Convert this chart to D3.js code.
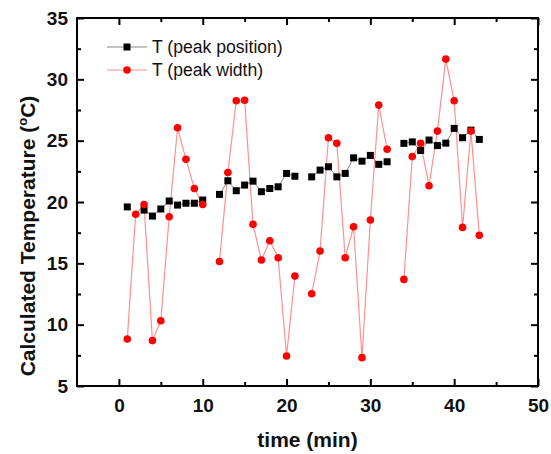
<!DOCTYPE html>
<html>
<head>
<meta charset="utf-8">
<script src="https://cdn.jsdelivr.net/npm/d3@7"></script>
<style>
  body { margin: 0; background: #fff; }
  svg { font-family: Arial, "Liberation Sans", sans-serif; }
  .tick text { font-size: 19px; font-weight: bold; fill: #111; }
  .axtitle { font-size: 21px; font-weight: bold; fill: #111; }
  .legtext { font-size: 17.6px; fill: #111; }
</style>
</head>
<body>
<div id="chart"></div>
<script>
// time in minutes (gaps at 11, 22, 33)
let times = [1,2,3,4,5,6,7,8,9,10,11,12,13,14,15,16,17,18,19,20,21,22,
             23,24,25,26,27,28,29,30,31,32,33,34,35,36,37,38,39,40,41,42,43];

// T from peak position (black squares)
let tPosition = [19.6,null,19.34,18.85,19.43,20.08,19.75,19.9,19.9,20.16,null,
                 20.62,21.73,20.92,21.38,21.7,20.84,21.1,21.24,22.33,22.1,null,
                 22.05,22.6,22.87,22.05,22.33,23.6,23.33,23.8,23.07,23.28,null,
                 24.78,24.9,24.2,25.05,24.6,24.8,26.0,25.24,25.86,25.1];

// T from peak width (red circles)
let tWidth = [8.83,19.0,19.8,8.7,10.32,18.8,26.05,23.48,21.1,19.8,null,
              15.15,22.4,28.25,28.3,18.18,15.27,16.84,15.45,7.45,13.96,null,
              12.52,16.0,25.24,24.78,15.46,17.98,7.31,18.53,27.9,24.3,null,
              13.69,23.7,24.78,21.32,25.78,31.65,28.25,17.93,25.78,17.28];

let xMajor = [0,10,20,30,40,50];
let xMinor = [5,15,25,35,45];
let yMajor = [5,10,15,20,25,30,35];
let yMinor = [7.5,12.5,17.5,22.5,27.5,32.5];

let seriesNames = ['T (peak position)','T (peak width)'];

let w = 551, h = 454;
let pLeft = 77, pRight = 538, pTop = 18, pBottom = 386;

var svg = d3.select('#chart')
    .append('svg')
    .attr('width', w)
    .attr('height', h);

var xScale = d3.scaleLinear().domain([-5, 50]).range([pLeft, pRight]);
var yScale = d3.scaleLinear().domain([5, 35]).range([pBottom, pTop]);

function styleAxis(g){
    g.select('.domain').remove();
    g.selectAll('.tick line').attr('stroke', '#000').attr('stroke-width', 2);
}

// major + minor ticks on all four sides, pointing inward
svg.append('g')
    .attr('transform', 'translate(0,' + pBottom + ')')
    .call(d3.axisBottom(xScale).tickValues(xMajor).tickSize(-7).tickPadding(13).tickFormat(d3.format('d')))
    .call(styleAxis);
svg.append('g')
    .attr('transform', 'translate(0,' + pBottom + ')')
    .call(d3.axisBottom(xScale).tickValues(xMinor).tickSize(-4).tickFormat(''))
    .call(styleAxis);
svg.append('g')
    .attr('transform', 'translate(0,' + pTop + ')')
    .call(d3.axisTop(xScale).tickValues(xMajor).tickSize(-7).tickFormat(''))
    .call(styleAxis);
svg.append('g')
    .attr('transform', 'translate(0,' + pTop + ')')
    .call(d3.axisTop(xScale).tickValues(xMinor).tickSize(-4).tickFormat(''))
    .call(styleAxis);

svg.append('g')
    .attr('transform', 'translate(' + pLeft + ',0)')
    .call(d3.axisLeft(yScale).tickValues(yMajor).tickSize(-7).tickPadding(9).tickFormat(d3.format('d')))
    .call(styleAxis);
svg.append('g')
    .attr('transform', 'translate(' + pLeft + ',0)')
    .call(d3.axisLeft(yScale).tickValues(yMinor).tickSize(-4).tickFormat(''))
    .call(styleAxis);
svg.append('g')
    .attr('transform', 'translate(' + pRight + ',0)')
    .call(d3.axisRight(yScale).tickValues(yMajor).tickSize(-7).tickFormat(''))
    .call(styleAxis);
svg.append('g')
    .attr('transform', 'translate(' + pRight + ',0)')
    .call(d3.axisRight(yScale).tickValues(yMinor).tickSize(-4).tickFormat(''))
    .call(styleAxis);

svg.append('rect')
    .attr('x', pLeft).attr('y', pTop)
    .attr('width', pRight - pLeft).attr('height', pBottom - pTop)
    .attr('fill', 'none')
    .attr('stroke', '#000')
    .attr('stroke-width', 2);

// lines
var posData = times.map(function(t, i){ return {t: t, v: tPosition[i]}; });
var widData = times.map(function(t, i){ return {t: t, v: tWidth[i]}; });

var line = d3.line()
    .defined(function(d){ return d.v !== null; })
    .x(function(d){ return xScale(d.t); })
    .y(function(d){ return yScale(d.v); });

svg.append('path')
    .datum(widData)
    .attr('d', line)
    .attr('fill', 'none')
    .attr('stroke', '#ff9090')
    .attr('stroke-width', 1.2);

svg.append('path')
    .datum(posData)
    .attr('d', line)
    .attr('fill', 'none')
    .attr('stroke', '#888')
    .attr('stroke-width', 1);

// markers
svg.selectAll('rect.sq')
    .data(posData.filter(function(d){ return d.v !== null; }))
    .enter()
    .append('rect')
    .attr('class', 'sq')
    .attr('x', function(d){ return xScale(d.t) - 3.5; })
    .attr('y', function(d){ return yScale(d.v) - 3.5; })
    .attr('width', 7)
    .attr('height', 7)
    .attr('fill', '#000');

svg.selectAll('circle.dot')
    .data(widData.filter(function(d){ return d.v !== null; }))
    .enter()
    .append('circle')
    .attr('class', 'dot')
    .attr('cx', function(d){ return xScale(d.t); })
    .attr('cy', function(d){ return yScale(d.v); })
    .attr('r', 3.8)
    .attr('fill', '#ff0000');

// legend
let legY = [47, 70];
let legColors = ['#888', '#ff9090'];
legY.forEach(function(y, i){
    svg.append('line')
        .attr('x1', 107).attr('x2', 147)
        .attr('y1', y).attr('y2', y)
        .attr('stroke', legColors[i])
        .attr('stroke-width', 1.2);
    if(i == 0){
        svg.append('rect').attr('x', 123.5).attr('y', y - 3.5)
            .attr('width', 7).attr('height', 7).attr('fill', '#000');
    } else {
        svg.append('circle').attr('cx', 127).attr('cy', y)
            .attr('r', 3.8).attr('fill', '#ff0000');
    }
    svg.append('text')
        .attr('class', 'legtext')
        .attr('x', 152)
        .attr('y', y + 6)
        .text(seriesNames[i]);
});

// axis titles
svg.append('text')
    .attr('class', 'axtitle')
    .attr('x', (pLeft + pRight) / 2)
    .attr('y', 447)
    .style('text-anchor', 'middle')
    .text('time (min)');

var yt = svg.append('text')
    .attr('class', 'axtitle')
    .attr('transform', 'translate(35,' + 236 + ') rotate(-90)')
    .style('text-anchor', 'middle');
yt.append('tspan').text('Calculated Temperature (');
yt.append('tspan').attr('font-size', '13px').attr('dy', -8).text('o');
yt.append('tspan').attr('dy', 8).text('C)');
</script>
</body>
</html>
